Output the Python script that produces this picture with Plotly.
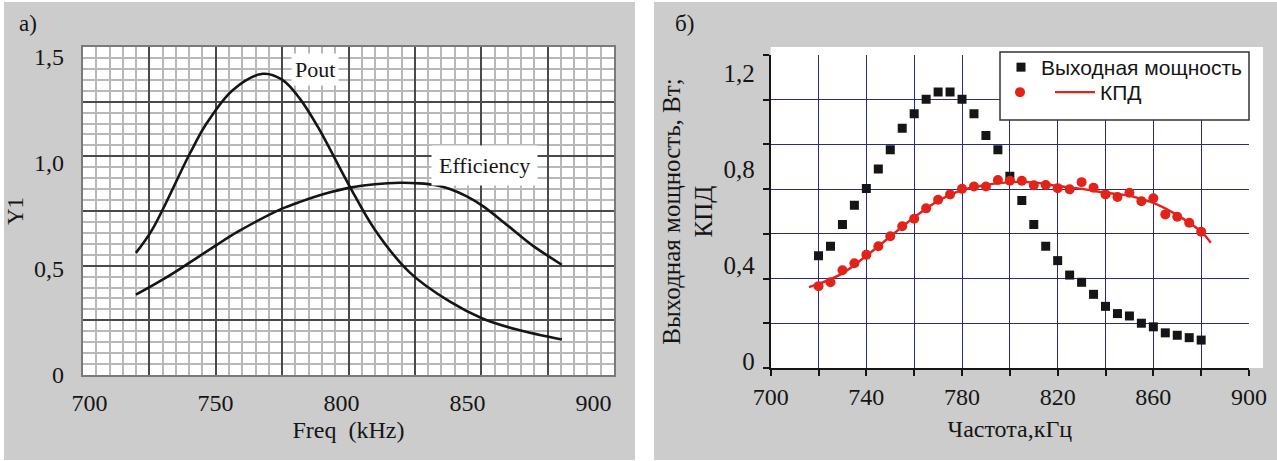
import plotly.graph_objects as go

W, H = 1277, 461

# ---------------- panel а) : values ----------------
pout_freq = [718.4, 724.8, 739.9, 746.6, 756.9, 768.8, 776.4, 783.5, 791.0, 794.2, 803.3, 813.2, 827.1, 843.0, 856.1, 869.6, 887.4]
pout_val = [0.575, 0.683, 1.045, 1.187, 1.342, 1.418, 1.39, 1.30, 1.16, 1.09, 0.886, 0.684, 0.482, 0.345, 0.265, 0.214, 0.167]

eff_freq = [718.4, 730.3, 750.5, 758.5, 767.0, 776.4, 783.5, 793.0, 803.3, 813.2, 823.2, 831.0, 837.0, 843.0,
            849.5, 856.1, 866.3, 876.0, 887.4]
eff_val = [0.378, 0.458, 0.613, 0.672, 0.728, 0.783, 0.815, 0.852, 0.882, 0.898, 0.905, 0.902, 0.894, 0.876,
           0.842, 0.795, 0.70, 0.608, 0.519]

a_xticks = [700, 750, 800, 850, 900]
a_xticktext = ["700", "750", "800", "850", "900"]
a_yticks = [0, 0.5, 1.0, 1.5]
a_yticktext = ["0", "0,5", "1,0", "1,5"]

# ---------------- panel б) : values ----------------
b_freq = [720, 725, 730, 735, 740, 745, 750, 755, 760, 765, 770, 775, 780, 785, 790, 795, 800,
          805, 810, 815, 820, 825, 830, 835, 840, 845, 850, 855, 860, 865, 870, 875, 880]
b_power = [0.44, 0.48, 0.57, 0.65, 0.72, 0.80, 0.88, 0.97, 1.03, 1.09, 1.12, 1.12, 1.09, 1.03, 0.94, 0.88, 0.77,
           0.67, 0.57, 0.48, 0.42, 0.36, 0.33, 0.28, 0.23, 0.20, 0.19, 0.16, 0.145, 0.12, 0.11, 0.10, 0.09]
b_kpd = [0.314, 0.330, 0.380, 0.409, 0.444, 0.480, 0.521, 0.563, 0.594, 0.637, 0.673, 0.695, 0.718, 0.728, 0.728, 0.755, 0.752,
         0.752, 0.733, 0.734, 0.721, 0.716, 0.746, 0.723, 0.695, 0.684, 0.702, 0.667, 0.679, 0.612, 0.602, 0.577, 0.540]

b_fit_freq = [716, 720, 730, 740, 750, 760, 770, 780, 790, 800, 810, 820, 830, 840, 850, 855, 860, 870, 880, 884]
b_fit_kpd = [0.31, 0.323, 0.367, 0.44, 0.52, 0.60, 0.668, 0.713, 0.734, 0.746, 0.745, 0.73, 0.718, 0.702, 0.69, 0.675, 0.66, 0.609, 0.54, 0.494]

b_xticks = [700, 720, 740, 760, 780, 800, 820, 840, 860, 880, 900]
b_xticktext = ["700", "", "740", "", "780", "", "820", "", "860", "", "900"]
b_xgrid = [720, 740, 760, 780, 800, 820, 840, 860, 880]
b_yticks = [0, 0.4, 0.8, 1.2]
b_yticktext = ["0", "0,4", "0,8", "1,2"]

SERIF = "Liberation Serif"
SANS = "Liberation Sans"
INK = "#151515"
RED = "#e2231a"
BLUE = "#2a2a88"
GRAY = "#cccccc"


def px(x):
    return x / W


def py(y):
    return 1 - y / H


fig = go.Figure()

# panel а) curves
fig.add_trace(go.Scatter(x=pout_freq, y=pout_val, mode="lines", xaxis="x", yaxis="y",
                         line=dict(color=INK, width=2.6, shape="spline", smoothing=1.0), showlegend=False))
fig.add_trace(go.Scatter(x=eff_freq, y=eff_val, mode="lines", xaxis="x", yaxis="y",
                         line=dict(color=INK, width=2.6, shape="spline", smoothing=1.0), showlegend=False))
fig.add_trace(go.Scatter(x=[], y=[], xaxis="x3", yaxis="y3", showlegend=False))

# panel б)
fig.add_trace(go.Scatter(x=b_freq, y=b_power, mode="markers", xaxis="x2", yaxis="y2",
                         name="Выходная мощность", legend="legend",
                         marker=dict(symbol="square", size=9, color=INK)))
fig.add_trace(go.Scatter(x=b_freq, y=b_kpd, mode="markers", xaxis="x2", yaxis="y2",
                         name="", legend="legend2",
                         marker=dict(symbol="circle", size=10, color=RED)))
fig.add_trace(go.Scatter(x=b_fit_freq, y=b_fit_kpd, mode="lines", xaxis="x2", yaxis="y2",
                         name="КПД", legend="legend2",
                         line=dict(color=RED, width=2.4, shape="spline", smoothing=1.0)))
fig.add_trace(go.Scatter(x=[], y=[], xaxis="x4", yaxis="y4", showlegend=False))

a_xdom = [px(83), px(614)]
a_ydom = [py(375), py(47)]
b_xdom = [px(770.7), px(1249)]
b_ydom = [py(368), py(55)]

tickfont = dict(family=SERIF, size=24, color=INK)

fig.update_layout(
    width=W, height=H,
    margin=dict(l=0, r=0, t=0, b=0),
    paper_bgcolor="white", plot_bgcolor="white",
    xaxis=dict(domain=a_xdom, anchor="y", range=[697.4, 908.1], tickmode="array",
               tickvals=a_xticks, ticktext=a_xticktext, showgrid=False, zeroline=False,
               ticks="", showline=False, tickfont=tickfont, ticklabelstandoff=11,
               automargin=False,
               title=dict(text="Freq\u00a0\u00a0(kHz)", font=dict(family=SERIF, size=24, color=INK), standoff=6)),
    yaxis=dict(domain=a_ydom, anchor="x", range=[0, 1.544], tickmode="array",
               tickvals=a_yticks, ticktext=a_yticktext, showgrid=False, zeroline=False,
               ticks="", showline=False, tickfont=tickfont, ticklabelstandoff=18,
               automargin=False,
               title=dict(text="Y1", font=dict(family=SERIF, size=23, color=INK), standoff=3)),
    xaxis3=dict(overlaying="x", anchor="y3", range=[0, 8], tickmode="linear", tick0=0, dtick=1,
                showticklabels=False, ticks="", zeroline=False,
                showgrid=True, gridcolor="#4a4a4a", gridwidth=2,
                minor=dict(dtick=0.2, tick0=0, showgrid=True, gridcolor="#b8b8b8", gridwidth=1.5),
                showline=True, mirror=True, linecolor="#7a7a7a", linewidth=2),
    yaxis3=dict(overlaying="y", anchor="x3", range=[0, 6], tickmode="linear", tick0=0, dtick=1,
                showticklabels=False, ticks="", zeroline=False,
                showgrid=True, gridcolor="#4a4a4a", gridwidth=2,
                minor=dict(dtick=0.2, tick0=0, showgrid=True, gridcolor="#b8b8b8", gridwidth=1.5),
                showline=True, mirror=True, linecolor="#7a7a7a", linewidth=2),
    xaxis2=dict(domain=b_xdom, anchor="y2", range=[700, 900], tickmode="array",
                tickvals=b_xticks, ticktext=b_xticktext, showgrid=False, zeroline=False,
                ticks="outside", ticklen=6, tickwidth=1.5, tickcolor=INK,
                showline=True, linecolor=INK, linewidth=1.5, tickfont=tickfont,
                automargin=False,
                title=dict(text="Частота,кГц", font=dict(family=SERIF, size=24, color=INK), standoff=12)),
    yaxis2=dict(domain=b_ydom, anchor="x2", range=[-0.026, 1.274], tickmode="array",
                tickvals=b_yticks, ticktext=b_yticktext, showgrid=False, zeroline=False,
                ticks="", showline=False, tickfont=dict(family=SERIF, size=25, color=INK),
                ticklabelstandoff=15, automargin=False,
                title=dict(text="Выходная мощность, Вт;<br>КПД",
                           font=dict(family=SERIF, size=25, color=INK), standoff=3)),
    xaxis4=dict(overlaying="x2", anchor="y4", range=[700, 900], tickmode="array", tickvals=b_xgrid,
                showticklabels=False, ticks="", zeroline=False, showline=False,
                showgrid=True, gridcolor=BLUE, gridwidth=1.3),
    yaxis4=dict(overlaying="y2", anchor="x4", range=[0, 7], tickmode="linear", tick0=0, dtick=1,
                showticklabels=False, zeroline=False,
                ticks="outside", ticklen=6, tickwidth=1.5, tickcolor=INK,
                showline=True, linecolor=INK, linewidth=1.5,
                showgrid=True, gridcolor=BLUE, gridwidth=1.3),
    legend=dict(x=px(1001), y=py(47), xanchor="left", yanchor="top", bgcolor="rgba(0,0,0,0)",
                borderwidth=0, font=dict(family=SANS, size=21, color=INK), tracegroupgap=0),
    legend2=dict(x=px(995), y=py(72), xanchor="left", yanchor="top", orientation="h",
                 bgcolor="rgba(0,0,0,0)", borderwidth=0, itemwidth=40,
                 font=dict(family=SANS, size=21, color=INK)),
    shapes=[
        dict(type="rect", xref="paper", yref="paper", x0=px(4), x1=px(635), y0=py(460), y1=py(2),
             fillcolor=GRAY, line=dict(width=0), layer="below"),
        dict(type="rect", xref="paper", yref="paper", x0=px(654), x1=px(1277), y0=py(460), y1=py(2),
             fillcolor=GRAY, line=dict(width=0), layer="below"),
        dict(type="rect", xref="paper", yref="paper", x0=px(83), x1=px(614), y0=py(375), y1=py(47),
             fillcolor="white", line=dict(width=0), layer="below"),
        dict(type="rect", xref="paper", yref="paper", x0=px(770.7), x1=px(1263), y0=py(368), y1=py(47),
             fillcolor="white", line=dict(width=0), layer="below"),
        dict(type="rect", xref="paper", yref="paper", x0=px(1000), x1=px(1249), y0=py(120), y1=py(52),
             fillcolor="white", line=dict(width=1.5, color="#333333"), layer="above"),
    ],
    annotations=[
        dict(text="а)", xref="paper", yref="paper", x=px(28), y=py(24), showarrow=False,
             xanchor="center", yanchor="middle",
             font=dict(family=SERIF, size=23, color=INK)),
        dict(text="б)", xref="paper", yref="paper", x=px(684), y=py(23), showarrow=False,
             xanchor="center", yanchor="middle",
             font=dict(family=SERIF, size=23, color=INK)),
        dict(text="Pout", xref="x", yref="y", x=789.4, y=1.44, showarrow=False,
             xanchor="center", yanchor="middle",
             font=dict(family=SERIF, size=22, color=INK), bgcolor="white", borderpad=3),
        dict(text="Efficiency", xref="x", yref="y", x=856.9, y=0.984, showarrow=False,
             xanchor="center", yanchor="middle",
             font=dict(family=SERIF, size=22, color=INK), bgcolor="white", borderpad=7),
    ],
)

fig.write_html("out.html", config={"displayModeBar": False},
               post_script="document.body.style.margin='0';document.body.style.overflow='hidden';")
